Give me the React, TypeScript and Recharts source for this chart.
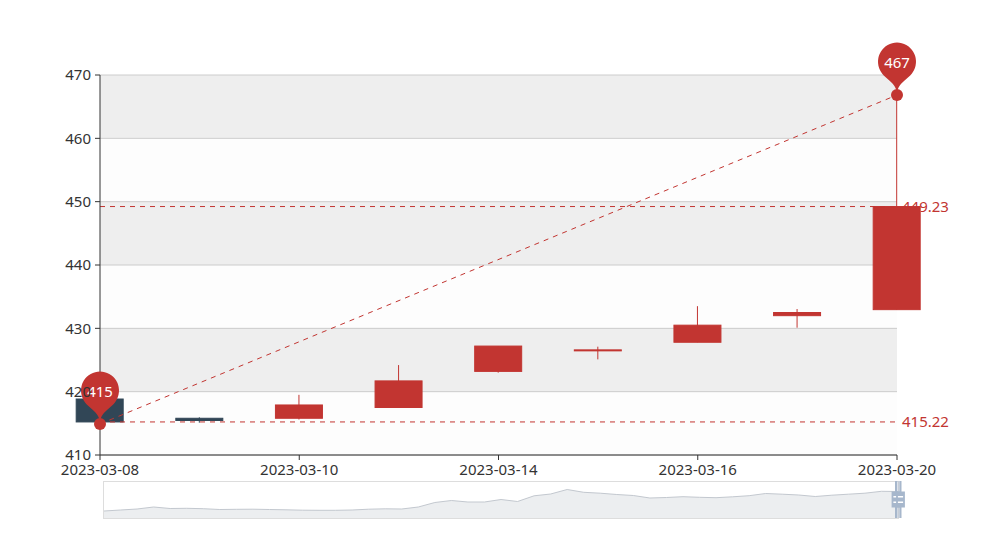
import {
  ComposedChart,
  Bar,
  XAxis,
  YAxis,
  CartesianGrid,
  ReferenceLine,
  ReferenceDot,
  AreaChart,
  Area,
} from 'recharts';

// daily candles
const dates = [
  '2023-03-08', '2023-03-09', '2023-03-10', '2023-03-13', '2023-03-14',
  '2023-03-15', '2023-03-16', '2023-03-17', '2023-03-20',
];
const openPrices = [418.84, 415.8, 415.8, 417.5, 423.2, 426.5, 427.8, 432.0, 432.95];
const closePrices = [415.22, 415.45, 417.9, 421.7, 427.2, 426.6, 430.5, 432.5, 449.23];
const lowPrices = [414.9, 415.1, 415.6, 417.5, 423.0, 425.1, 427.8, 430.1, 432.95];
const highPrices = [419.0, 415.95, 419.5, 424.2, 427.2, 427.1, 433.5, 433.05, 466.84];

const yTicks = [410, 420, 430, 440, 450, 460, 470];
const xTickIdx = [0, 2, 4, 6, 8];

// data shadow of the zoom slider (whole history, rough levels)
const overviewLevels = [
  7, 8, 9, 11, 9.5, 9.7, 9.3, 8.5, 8.7, 8.8, 8.5, 8.2, 7.8, 7.7, 7.7, 8, 8.8,
  9.2, 9, 11, 15.5, 17.5, 16, 16, 18.5, 16.5, 22.2, 24, 28.5, 25.7, 24.8, 23.5,
  22.5, 20, 20.5, 21.3, 20.7, 20.3, 21.2, 22.3, 24.5, 23.8, 23, 21.5, 22.8,
  23.8, 24.8, 26.7, 26.5,
];

const UP = '#c23531';
const DOWN = '#314656';
const FONT = '"Noto Sans", "Open Sans", sans-serif';

const candles = dates.map((date, i) => ({
  idx: i,
  date,
  open: openPrices[i],
  close: closePrices[i],
  low: lowPrices[i],
  high: highPrices[i],
  range: [lowPrices[i], highPrices[i]],
}));

const overview = overviewLevels.map((v, i) => ({ i, v }));

const minLow = Math.min(...lowPrices);
const maxHigh = Math.max(...highPrices);
const minLowIdx = lowPrices.indexOf(minLow);
const maxHighIdx = highPrices.indexOf(maxHigh);
const minClose = Math.min(...closePrices);
const maxClose = Math.max(...closePrices);

const Candle = (props: any) => {
  const { x, y, width, height, payload } = props;
  if (!payload) return null;
  const { open, close, high, low } = payload;
  const top = height < 0 ? y + height : y;
  const h = Math.abs(height);
  const k = h / (high - low);
  const bodyTop = top + (high - Math.max(open, close)) * k;
  const bodyBottom = top + (high - Math.min(open, close)) * k;
  const color = close >= open ? UP : DOWN;
  const cx = x + width / 2;
  return (
    <g>
      <line x1={cx} x2={cx} y1={top} y2={top + h} stroke={color} strokeWidth={1} />
      <rect
        x={x}
        y={bodyTop}
        width={width}
        height={Math.max(bodyBottom - bodyTop, 1)}
        fill={color}
        stroke={color}
        strokeWidth={1}
      />
    </g>
  );
};

// echarts-like 'pin' marker, tip at the point
const Pin = ({ cx, cy, text }: { cx: number; cy: number; text: string }) => {
  if (cx == null || cy == null) return null;
  const r = 19;
  const h = 61;
  const dy = (r * r) / (h - r);
  const c = cy - h + r + dy;
  const a = Math.asin(dy / r);
  const dx = Math.cos(a) * r;
  const tx = Math.sin(a);
  const ty = Math.cos(a);
  const cp = r * 0.6;
  const cp2 = r * 0.7;
  const d =
    `M${cx - dx},${c + dy} A${r},${r} 0 1 1 ${cx + dx},${c + dy} ` +
    `C${cx + dx - tx * cp},${c + dy + ty * cp} ${cx},${cy - cp2} ${cx},${cy} ` +
    `C${cx},${cy - cp2} ${cx - dx + tx * cp},${c + dy + ty * cp} ${cx - dx},${c + dy} Z`;
  return (
    <g>
      <path d={d} fill={UP} />
      <circle cx={cx} cy={cy} r={6} fill={UP} />
      <text
        x={cx}
        y={c}
        fill="#fff"
        fontSize={15}
        textAnchor="middle"
        dominantBaseline="central"
        fontFamily={FONT}
      >
        {text}
      </text>
    </g>
  );
};

const Handle = ({ x }: { x: number }) => (
  <g>
    <rect x={x - 1} y={0} width={2} height={37} fill="#a7b7cc" />
    <rect x={x - 4.4} y={10.5} width={8.8} height={16} fill="#a7b7cc" />
    <rect x={x - 2.6} y={15} width={5.2} height={1.5} fill="#fff" />
    <rect x={x - 2.6} y={20.5} width={5.2} height={1.5} fill="#fff" />
  </g>
);

export default function App() {
  return (
    <div style={{ position: 'relative', width: 997, height: 535, margin: -8, fontFamily: FONT, background: '#fff' }}>
      <ComposedChart
        width={997}
        height={535}
        data={candles}
        margin={{ top: 75, right: 100, bottom: 50, left: 40 }}
      >
        <CartesianGrid
          vertical={false}
          stroke="#cccccc"
          horizontalFill={['#eeeeee', '#fdfdfd']}
          fillOpacity={1}
        />
        <XAxis
          dataKey="idx"
          type="number"
          domain={[0, 8]}
          ticks={xTickIdx}
          tickFormatter={(i: number) => dates[i]}
          height={30}
          tickSize={5}
          tickMargin={4}
          stroke="#333"
          tick={{ fill: '#333', fontSize: 15 }}
          interval={0}
        />
        <YAxis
          domain={[410, 470]}
          ticks={yTicks}
          width={60}
          tickSize={5}
          tickMargin={4}
          stroke="#333"
          tick={{ fill: '#333', fontSize: 15 }}
          interval={0}
        />
        <Bar dataKey="range" barSize={47} isAnimationActive={false} shape={Candle} />
        <ReferenceLine
          y={maxClose}
          stroke={UP}
          strokeDasharray="5 5"
          label={{ value: maxClose.toFixed(2), position: 'right', fill: UP, fontSize: 15 }}
        />
        <ReferenceLine
          y={minClose}
          stroke={UP}
          strokeDasharray="5 5"
          label={{ value: minClose.toFixed(2), position: 'right', fill: UP, fontSize: 15 }}
        />
        <ReferenceLine
          segment={[
            { x: minLowIdx, y: minLow },
            { x: maxHighIdx, y: maxHigh },
          ]}
          stroke={UP}
          strokeDasharray="5 5"
        />
        <ReferenceDot
          x={minLowIdx}
          y={minLow}
          r={6}
          shape={(p: any) => <Pin cx={p.cx} cy={p.cy} text={String(Math.round(minLow))} />}
        />
        <ReferenceDot
          x={maxHighIdx}
          y={maxHigh}
          r={6}
          shape={(p: any) => <Pin cx={p.cx} cy={p.cy} text={String(Math.round(maxHigh))} />}
        />
      </ComposedChart>

      {/* zoom slider */}
      <div
        style={{
          position: 'absolute',
          left: 103,
          top: 481,
          width: 794,
          height: 36,
          border: '1px solid #dddddd',
        }}
      >
        <AreaChart width={794} height={36} data={overview} margin={{ top: 0, right: 0, bottom: 0, left: 0 }}>
          <XAxis dataKey="i" hide />
          <YAxis domain={[0, 36]} hide />
          <Area
            type="linear"
            dataKey="v"
            stroke="#c3c8cf"
            strokeWidth={1}
            fill="#eceef0"
            fillOpacity={1}
            isAnimationActive={false}
          />
        </AreaChart>
      </div>
      <svg
        style={{ position: 'absolute', left: 880, top: 481, overflow: 'visible' }}
        width={30}
        height={38}
      >
        <rect x={16} y={0} width={4.5} height={37} fill="rgba(167,183,204,0.4)" />
        <Handle x={16} />
        <Handle x={20.5} />
      </svg>
    </div>
  );
}
